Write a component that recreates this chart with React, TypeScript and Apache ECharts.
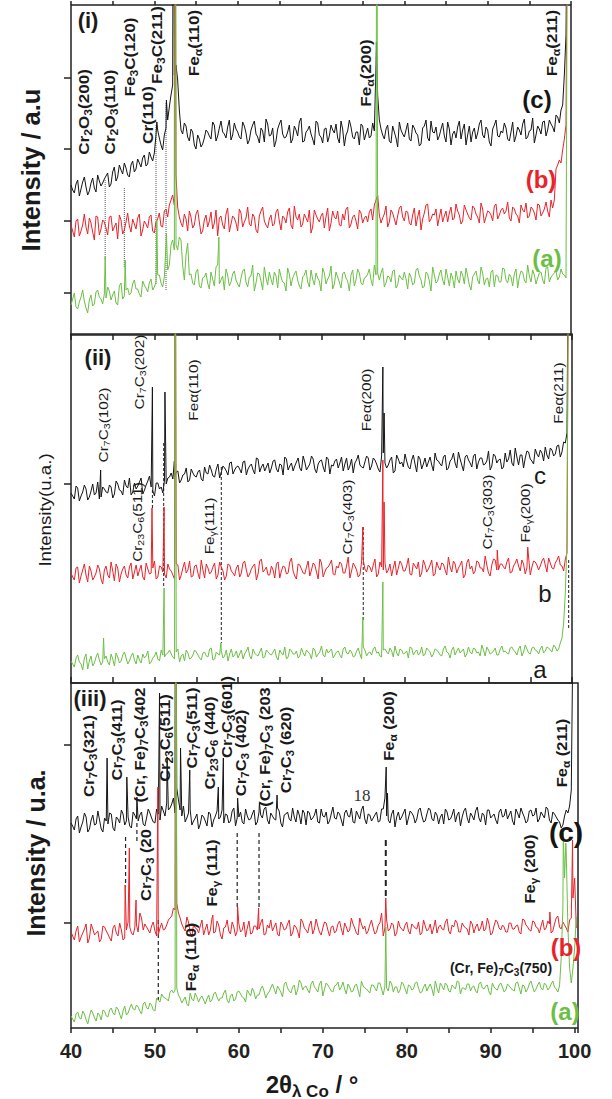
import React, { useEffect, useRef } from "react";
import * as echarts from "echarts";

const FONT = "'Liberation Sans', Arial, Helvetica, sans-serif";
const X_START = 40;
const X_STEP = 0.4;
const X_MID_START = 40.2;
const X_TICKS_STEP = 5;

// ---------- panel (i) : intensity read as px above panel bottom ----------
// main samples at 40.0, 40.4 ... 100.0 ; mid samples at 40.2, 40.6 ... 99.8
const P1_C = [
  150,142,155,146,158,140,152,147,160,149,
  156,162,151,168,158,165,172,160,170,163,
  176,168,180,171,178,182,205,190,200,215,
  240,260,255,205,212,198,206,190,200,188,
  197,203,196,210,199,214,201,208,195,212,
  203,196,209,191,205,214,198,207,193,211,
  200,188,206,215,197,203,192,209,199,217,
  194,205,201,190,212,198,206,193,210,202,
  197,214,189,204,208,196,203,211,195,207,
  199,204,240,206,196,210,192,203,188,205,
  198,212,194,207,200,191,209,197,214,202,
  195,206,199,213,190,204,208,196,211,200,
  193,207,202,215,197,205,189,210,199,204,
  212,196,203,193,208,200,216,198,205,192,
  209,201,214,205,211,203,218,225,260,500,
  500,
];
const P1_C_MID = [
  145,151,139,153,148,144,157,143,154,152,
  159,148,163,154,170,161,167,158,174,166,
  172,177,169,183,174,200,197,185,207,228,
  250,270,225,201,209,194,203,186,196,191,
  205,199,213,194,207,203,197,215,200,206,
  198,213,202,195,210,201,192,204,216,199,
  207,194,211,201,198,210,196,205,213,193,
  203,209,196,214,200,192,207,199,205,211,
  192,206,200,215,198,203,190,209,201,197,
  212,270,215,200,206,194,209,197,213,201,
  205,196,210,202,189,207,215,194,203,208,
  199,212,193,206,201,197,214,205,190,209,
  203,196,211,200,208,193,206,215,198,202,
  207,194,213,199,205,211,196,204,217,200,
  206,213,199,215,208,220,212,230,300,500,
];
const P1_B = [
  110,98,116,104,121,101,112,95,118,106,
  113,100,119,108,96,115,105,122,103,111,
  117,99,114,107,120,102,116,109,124,118,
  135,130,128,112,121,104,118,110,125,101,
  115,108,123,112,99,119,106,127,111,117,
  104,122,113,128,109,118,102,124,114,107,
  120,111,126,105,117,123,110,129,115,108,
  121,113,102,125,116,119,107,127,112,118,
  124,109,115,128,111,120,106,122,117,113,
  126,130,140,112,121,108,125,116,119,129,
  114,123,110,127,118,105,122,131,116,120,
  109,126,119,113,128,117,124,111,130,121,
  115,127,118,132,112,124,120,129,116,125,
  121,133,114,126,119,130,123,117,128,122,
  131,119,126,124,135,135,170,172,196,500,
  500,
];
const P1_B_MID = [
  104,114,99,110,108,117,103,119,100,115,
  107,118,104,112,120,101,113,109,116,106,
  121,105,111,118,104,113,122,108,126,130,
  140,160,118,108,116,124,107,121,113,104,
  120,114,106,125,117,110,121,103,119,112,
  126,108,117,111,121,105,119,128,110,116,
  109,123,114,119,112,127,106,118,121,111,
  117,125,108,120,113,122,118,104,124,116,
  110,121,126,107,118,114,125,112,119,123,
  115,135,120,117,129,113,122,110,127,118,
  124,112,120,109,125,116,130,113,121,126,
  118,113,124,122,115,131,120,114,125,117,
  129,121,112,126,118,123,114,131,120,127,
  124,117,128,121,112,125,132,119,126,115,
  130,122,133,118,127,166,175,185,210,500,
];
const P1_A = [
  30,42,26,38,34,22,40,31,45,36,
  41,48,35,44,30,52,39,47,42,55,
  46,38,50,43,56,48,60,52,58,65,
  90,85,85,95,55,92,61,50,66,47,
  58,52,63,49,70,55,45,60,53,64,
  51,57,66,48,59,44,62,54,68,50,
  56,63,47,58,52,67,49,61,55,46,
  60,53,65,50,57,44,62,56,69,51,
  58,47,63,54,60,49,66,52,57,61,
  55,70,62,62,48,59,53,65,50,57,
  63,46,58,52,67,55,49,61,44,60,
  54,65,50,58,62,47,56,64,51,59,
  45,61,55,68,50,57,63,48,59,53,
  66,52,58,61,47,64,55,70,53,60,
  57,63,51,68,58,62,55,66,60,500,
  500,
];
const P1_A_MID = [
  36,28,33,45,27,35,29,43,38,31,
  37,44,40,32,49,36,45,40,51,46,
  41,54,47,52,45,53,60,48,90,70,
  95,90,98,70,80,60,52,63,49,57,
  62,46,56,68,51,59,66,49,61,55,
  48,64,53,58,70,52,61,45,57,63,
  50,59,66,53,44,61,57,64,49,58,
  65,48,56,62,54,67,51,59,46,63,
  53,61,57,44,65,55,62,50,58,66,
  49,60,55,67,52,58,64,47,60,55,
  56,62,50,65,59,47,63,54,68,52,
  61,55,66,49,57,64,52,60,67,50,
  58,64,51,62,56,48,65,60,53,67,
  55,61,49,66,58,63,52,59,65,51,
  62,55,67,53,60,64,58,61,57,500,
];
const P1_C_PEAKS = [[50.3, 213], [51.45, 235], [52.3, 600], [76.65, 293]];
const P1_B_PEAKS = [[52.45, 600]];
const P1_A_PEAKS = [[44.1, 78], [46.5, 75], [50.3, 115], [51.45, 102], [52.58, 600], [57.75, 98], [76.7, 600]];
const P1_MARKERS = [[44.1, 155, 75], [46.4, 147, 68], [50.2, 210, 50], [51.4, 232, 45]];
const P1_YTICKS = [42, 114, 186, 257];

// ---------- panel (ii) ----------
const P2_C = [
  190,184,195,187,198,183,192,188,201,186,
  194,190,196,189,199,192,203,195,188,200,
  197,205,193,202,196,187,200,196,203,205,
  210,206,212,203,209,201,214,207,211,204,
  216,209,213,206,219,211,215,208,221,213,
  217,210,222,214,219,209,224,216,212,220,
  215,223,211,218,226,213,220,217,225,212,
  221,216,227,214,219,223,211,224,218,222,
  215,226,219,213,224,220,228,216,221,225,
  217,223,214,227,220,218,226,212,224,221,
  229,216,223,219,227,214,225,221,218,230,
  222,217,228,215,224,220,231,218,226,223,
  216,229,221,225,219,232,217,227,223,214,
  230,224,220,235,218,228,225,231,222,234,
  226,230,236,224,233,229,238,231,240,500,
  500,
];
const P2_C_MID = [
  187,197,182,191,194,186,199,190,184,196,
  191,198,185,202,193,188,197,205,191,194,
  201,189,198,207,192,200,194,190,199,206,
  204,211,200,208,215,203,210,206,213,202,
  210,218,207,214,205,217,212,220,209,216,
  214,221,208,217,213,225,211,219,216,210,
  222,214,219,208,224,217,212,221,215,227,
  213,219,224,210,222,216,226,209,217,224,
  220,212,225,217,210,223,218,215,227,213,
  225,219,211,230,215,223,210,228,219,216,
  222,214,228,211,224,219,216,226,212,223,
  219,226,213,222,230,215,224,212,228,220,
  227,214,225,218,222,213,229,220,224,216,
  221,233,217,226,228,215,232,224,219,229,
  233,222,228,235,227,237,226,241,250,500,
];
const P2_B = [
  110,103,116,107,119,101,112,106,118,104,
  113,108,121,102,115,109,117,105,120,111,
  107,118,103,114,110,122,106,116,109,119,
  112,104,118,108,121,113,106,117,110,123,
  105,115,111,120,108,116,103,119,112,107,
  118,110,122,106,114,119,109,124,113,108,
  117,105,121,112,116,110,125,107,119,114,
  109,122,113,118,104,120,111,116,123,108,
  115,119,110,126,112,117,106,121,114,118,
  111,124,109,116,120,113,107,122,115,119,
  112,125,108,117,121,110,118,114,123,109,
  116,120,113,126,111,119,115,122,108,124,
  117,112,121,115,127,110,118,123,113,119,
  114,125,111,120,117,123,109,126,116,121,
  113,122,118,125,115,120,127,117,124,500,
  500,
];
const P2_B_MID = [
  106,115,100,113,108,117,103,110,114,99,
  117,105,112,119,101,114,108,116,104,118,
  113,106,120,109,115,104,117,111,105,114,
  108,119,103,115,110,122,107,118,104,113,
  119,109,116,104,121,112,107,118,110,115,
  106,120,113,109,117,103,122,111,116,108,
  113,119,105,117,109,121,112,104,118,110,
  116,107,120,111,124,106,115,119,109,117,
  121,110,117,105,120,113,108,123,111,116,
  118,106,121,113,110,119,115,108,122,112,
  117,109,120,114,106,123,111,118,107,121,
  113,119,108,116,122,110,118,105,120,114,
  109,122,115,111,118,107,124,113,119,116,
  121,110,117,124,112,119,115,108,122,118,
  117,125,111,120,114,123,118,112,130,500,
];
const P2_A = [
  22,16,28,19,25,14,27,20,30,18,
  24,21,29,17,26,22,31,19,27,23,
  28,20,25,32,21,27,24,33,26,30,
  29,24,34,27,22,30,25,33,28,23,
  31,26,35,24,29,32,27,22,34,28,
  25,33,29,36,24,30,27,35,26,31,
  28,34,23,30,36,26,32,29,25,35,
  27,31,24,33,29,37,26,30,34,28,
  32,25,36,29,31,27,35,24,33,30,
  28,36,31,26,34,29,32,37,27,33,
  30,25,35,31,28,36,29,33,26,34,
  31,27,37,30,33,28,35,32,26,36,
  29,34,31,38,27,33,30,35,28,37,
  32,29,36,31,34,27,38,30,35,33,
  29,37,32,35,31,36,34,45,90,500,
  500,
];
const P2_A_MID = [
  19,25,21,13,29,22,17,26,23,21,
  27,18,24,30,20,28,25,22,30,19,
  23,29,27,19,25,31,22,28,29,33,
  26,31,21,29,33,24,28,31,25,30,
  27,34,23,31,28,25,33,29,26,32,
  29,24,32,27,34,28,31,25,33,29,
  31,26,33,28,24,34,29,32,27,30,
  33,29,35,26,31,28,34,32,25,31,
  28,34,30,33,26,32,29,36,27,31,
  34,30,27,33,31,35,26,30,34,29,
  32,36,28,33,30,27,35,31,29,33,
  28,34,31,25,36,32,30,34,29,31,
  35,30,27,33,36,29,32,28,34,31,
  30,35,33,28,37,31,34,29,36,32,
  34,30,36,33,38,32,40,60,140,500,
];
const P2_C_PEAKS = [[43.55, 213], [49.75, 296], [51.25, 291], [52.38, 222], [77.35, 316], [77.5, 270]];
const P2_B_PEAKS = [[49.7, 175], [51.15, 176], [52.45, 600], [74.95, 156], [77.35, 223], [77.5, 181], [91.05, 133], [94.7, 136]];
const P2_A_PEAKS = [[43.9, 45], [51.15, 95], [52.5, 600], [57.95, 40], [74.95, 66], [77.35, 101]];
const P2_MARKERS = [[49.75, 193, 173], [51.1, 240, 96], [58.0, 216, 40], [75.0, 156, 63], [99.6, 123, 53]];
const P2_YTICKS = [199];

// ---------- panel (iii) ----------
const P3_C = [
  205,198,212,201,215,196,208,203,217,199,
  210,204,214,197,209,218,203,211,200,213,
  207,216,202,219,210,205,214,222,212,218,
  224,215,228,212,206,215,203,210,199,213,
  207,216,201,212,209,218,214,205,217,202,
  211,206,219,208,214,203,216,210,221,204,
  212,208,217,201,214,209,220,206,213,218,
  203,215,210,219,205,212,216,207,221,209,
  214,202,218,211,206,217,209,222,204,213,
  210,216,207,219,212,205,218,211,208,215,
  203,217,212,209,220,206,214,218,207,213,
  211,204,216,209,219,213,202,217,210,215,
  208,221,206,213,218,210,214,204,219,212,
  209,217,203,215,220,211,207,218,213,206,
  216,210,219,205,214,208,200,212,215,238,
  500,
];
const P3_C_MID = [
  202,209,195,206,211,199,213,204,208,196,
  207,215,200,211,205,214,207,202,216,209,
  213,204,210,215,206,219,208,217,225,220,
  230,240,218,222,210,218,207,214,204,211,
  202,214,208,217,211,205,213,207,220,210,
  216,204,212,209,218,206,213,219,208,215,
  209,220,205,213,216,207,211,218,204,215,
  217,208,213,206,219,211,204,214,210,216,
  208,215,212,220,205,213,218,209,214,207,
  213,206,219,230,208,214,201,216,211,219,
  210,215,205,218,212,207,220,209,216,204,
  214,219,208,213,206,216,211,220,205,212,
  217,210,215,203,218,212,208,216,211,219,
  213,207,219,210,215,205,217,212,220,209,
  213,221,208,216,211,206,203,218,222,400,
];
const P3_B = [
  96,88,102,91,99,85,104,93,97,89,
  101,94,87,103,92,98,90,106,95,100,
  96,110,104,98,102,97,93,105,99,108,
  112,118,115,104,97,106,91,100,95,108,
  99,93,110,96,103,89,101,97,106,92,
  104,98,91,107,95,102,99,109,94,100,
  97,105,92,103,99,108,95,101,90,106,
  98,103,94,109,96,100,105,92,102,97,
  107,93,101,98,104,95,110,99,94,103,
  100,96,105,92,108,99,103,95,101,97,
  106,94,102,99,93,108,97,104,100,95,
  103,98,109,94,101,105,96,102,99,107,
  95,104,100,97,110,93,102,106,98,101,
  96,105,99,103,94,108,101,97,106,100,
  102,98,107,95,104,112,99,103,96,110,
  150,
];
const P3_B_MID = [
  92,97,86,95,104,90,99,95,86,102,
  97,90,100,95,105,88,98,101,93,103,
  115,98,101,95,106,92,100,98,103,110,
  120,125,110,100,111,95,104,99,102,93,
  104,98,95,107,93,100,108,94,101,97,
  96,106,100,94,102,98,105,93,103,108,
  101,94,106,98,104,92,103,97,109,100,
  95,107,99,102,93,106,98,101,95,104,
  99,105,96,110,100,93,104,102,97,108,
  94,103,115,100,97,105,92,107,99,103,
  97,104,100,106,95,102,99,94,108,101,
  99,106,97,103,108,96,105,100,93,104,
  101,97,107,99,104,95,108,100,103,96,
  105,99,102,96,109,103,98,107,101,95,
  108,100,104,97,110,101,106,100,108,130,
];
const P3_A = [
  12,6,16,9,14,4,18,10,15,8,
  17,11,20,13,19,9,22,15,24,18,
  21,14,26,19,23,17,28,34,30,27,
  38,38,33,25,31,22,29,35,26,32,
  24,33,28,36,27,30,38,25,34,29,
  37,31,26,35,40,29,33,42,30,36,
  44,34,39,31,46,37,41,33,48,38,
  42,35,47,39,44,32,45,40,36,43,
  38,46,34,41,37,44,31,42,39,35,
  43,37,45,33,40,47,36,41,38,44,
  34,42,39,46,35,41,37,44,32,40,
  45,38,43,36,41,47,34,40,44,37,
  42,35,46,39,43,33,41,38,45,36,
  44,40,37,46,34,42,39,47,36,43,
  40,45,38,44,41,36,70,150,100,45,
  80,
];
const P3_A_MID = [
  9,14,10,17,8,12,15,7,13,18,
  12,18,15,21,14,17,13,20,19,23,
  17,24,20,25,18,30,26,31,29,36,
  35,40,30,28,24,35,27,31,30,28,
  29,26,34,31,30,35,28,32,27,36,
  34,30,38,32,36,33,39,37,34,40,
  39,42,36,44,40,35,43,38,45,41,
  38,44,41,36,47,39,43,37,42,46,
  41,39,44,36,42,38,47,40,37,43,
  40,45,39,42,37,44,41,35,46,39,
  43,38,45,40,36,44,41,39,47,35,
  42,45,37,43,39,46,40,38,44,41,
  37,44,40,42,36,45,39,43,41,38,
  42,38,45,40,43,36,44,41,39,46,
  38,43,40,47,39,42,120,175,60,60,
];
const P3_C_PEAKS = [[44.3, 270], [46.65, 251], [47.85, 231], [50.55, 335], [51.45, 271], [52.45, 600], [53.05, 280], [54.15, 258], [57.55, 241], [58.15, 270], [59.85, 230], [62.45, 225], [64.55, 233], [77.55, 261], [77.7, 235], [100.3, 500]];
const P3_B_PEAKS = [[46.45, 143], [46.95, 180], [47.75, 128], [50.35, 241], [52.45, 600], [56.9, 113], [59.85, 121], [62.35, 120], [77.5, 130], [97.05, 116], [99.75, 188], [100.2, 100]];
const P3_A_PEAKS = [[52.5, 600], [77.5, 101], [98.65, 195], [98.95, 185], [100.2, 111]];
const P3_MARKERS = [[46.5, 191, 141], [47.85, 205, 185], [50.4, 108, 28], [59.8, 195, 121], [62.4, 195, 121]];
const P3_MARKERS_BOLD = [[77.5, 188, 131]];
const P3_YTICKS = [105, 283];

// ---------- annotations: [text, centre x, centre y] ----------
const P1_LABELS = [
  ["Cr{s|2}O{s|3}(200)", 84, 112],
  ["Cr{s|2}O{s|3}(110)", 110, 112],
  ["Fe{s|3}C(120)", 130, 57],
  ["Cr(110)", 148, 115],
  ["Fe{s|3}C(211)", 157, 45],
  ["Fe{s|α}(110)", 194, 43],
  ["Fe{s|α}(200)", 366, 73],
  ["Fe{s|α}(211)", 552, 43],
];
const P2_LABELS = [
  ["Cr{s|7}C{s|3}(102)", 103, 425],
  ["Cr{s|7}C{s|3}(202)", 139, 372],
  ["Feα(110)", 193, 390],
  ["Cr{s|23}C{s|6}(511)", 137, 522],
  ["Fe{s|γ}(111)", 209, 526],
  ["Feα(200)", 366, 400],
  ["Cr{s|7}C{s|3}(403)", 347, 517],
  ["Cr{s|7}C{s|3}(303)", 487, 512],
  ["Fe{s|γ}(200)", 525, 513],
  ["Feα(211)", 558, 393],
];
const P3_LABELS = [
  ["Cr{s|7}C{s|3}(321)", 89, 756],
  ["Cr{s|7}C{s|3}(411)", 117, 740],
  ["(Cr, Fe){s|7}C{s|3}(402", 140, 745],
  ["Cr{s|23}C{s|6}(511)", 165, 738],
  ["Cr{s|7}C{s|3}(511)", 192, 728],
  ["Cr{s|23}C{s|6} (440)", 210, 743],
  ["Cr{s|7}C{s|3}(601)", 227, 717],
  ["Cr{s|7}C{s|3} (402)", 241, 753],
  ["(Cr, Fe){s|7}C{s|3} (203", 265, 747],
  ["Cr{s|7}C{s|3} (620)", 286, 750],
  ["Cr{s|7}C{s|3} (20", 146, 865],
  ["Fe{s|γ} (111)", 212, 873],
  ["Fe{s|α} (110)", 191, 957],
  ["Fe{s|α} (200)", 389, 726],
  ["Fe{s|α} (211)", 562, 753],
  ["Fe{s|γ} (200)", 530, 869],
];

const BLACK = "#151515";
const RED = "#e8232a";
const GREEN = "#6cbf45";

function buildLine(main: number[], mid: number[], peaks: number[][]) {
  const a = main.map((v, i) => [+(X_START + i * X_STEP).toFixed(2), v]);
  const b = mid.map((v, i) => [+(X_MID_START + i * X_STEP).toFixed(2), v]);
  return a.concat(b).concat(peaks).sort((p, q) => p[0] - q[0]);
}

function rich(size: number, weight: string, color: string) {
  return {
    s: {
      fontSize: Math.round(size * 0.72),
      fontWeight: weight,
      fontFamily: FONT,
      fill: color,
      padding: [Math.round(size * 0.6), 0, 0, 0],
    },
  };
}

function txt(text: string, x: number, y: number, size: number, weight: string, color: string, rotated: boolean, stretch = 1, family = FONT) {
  return {
    type: "text",
    x,
    y,
    rotation: rotated ? Math.PI / 2 : 0,
    scaleX: stretch,
    z: 100,
    silent: true,
    style: {
      text,
      x: 0,
      y: 0,
      align: "center",
      verticalAlign: "middle",
      textAlign: "center",
      textVerticalAlign: "middle",
      fontSize: size,
      fontWeight: weight,
      fontFamily: family,
      fill: color,
      rich: rich(size, weight, color),
    },
  };
}

export default function App() {
  const ref = useRef<HTMLDivElement>(null);
  useEffect(() => {
    if (!ref.current) return;
    const chart = echarts.init(ref.current, undefined, { renderer: "svg" });

    const grids = [
      { left: 71, top: 5, width: 500, height: 330 },
      { left: 71, top: 334, width: 501, height: 349 },
      { left: 71, top: 683, width: 507, height: 345 },
    ].map((g) => ({ ...g, show: true, borderColor: "#222", borderWidth: 1.5, backgroundColor: "transparent" }));

    const xBase = (gridIndex: number, max: number, position: string, tick: any, label = false) => ({
      type: "value",
      gridIndex,
      position,
      min: 40,
      max,
      interval: X_TICKS_STEP,
      axisLine: { show: false },
      axisTick: { show: tick.show, inside: tick.inside, length: tick.length, lineStyle: { color: "#222", width: 1.5 } },
      axisLabel: label
        ? {
            show: true,
            margin: 13,
            fontSize: 20,
            fontWeight: "bold",
            fontFamily: FONT,
            color: "#222",
            formatter: (v: number) => (v % 10 === 0 ? String(v) : ""),
          }
        : { show: false },
      splitLine: { show: false },
    });

    const xAxes = [
      xBase(0, 100, "bottom", { show: false }),
      xBase(0, 100, "top", { show: true, inside: false, length: 4 }),
      xBase(1, 100, "bottom", { show: true, inside: true, length: 6 }),
      xBase(1, 100, "top", { show: true, inside: true, length: 6 }),
      xBase(2, 100.4, "bottom", { show: true, inside: false, length: 5 }, true),
    ];
    const yBase = (gridIndex: number, max: number, ticks: number[]) => ({
      type: "value",
      gridIndex,
      min: 0,
      max,
      axisLine: { show: false },
      axisTick: { show: true, inside: false, length: 7, customValues: ticks, lineStyle: { color: "#222", width: 1.5 } },
      axisLabel: { show: false },
      splitLine: { show: false },
    });
    const yAxes = [yBase(0, 330, P1_YTICKS), yBase(1, 349, P2_YTICKS), yBase(2, 345, P3_YTICKS)];

    const line = (data: number[][], xi: number, yi: number, color: string) => ({
      type: "line",
      xAxisIndex: xi,
      yAxisIndex: yi,
      data,
      symbol: "none",
      silent: true,
      clip: true,
      lineStyle: { color, width: 1 },
    });
    const marker = (m: number[], xi: number, yi: number, type: any, color: string, width: number) => ({
      type: "line",
      xAxisIndex: xi,
      yAxisIndex: yi,
      data: [[m[0], m[1]], [m[0], m[2]]],
      symbol: "none",
      silent: true,
      z: 1,
      lineStyle: { color, width, type },
    });

    const series: any[] = [
      ...P1_MARKERS.map((m) => marker(m, 0, 0, "dotted", "#555", 1)),
      ...P2_MARKERS.map((m) => marker(m, 2, 1, [3, 2], "#222", 1)),
      ...P3_MARKERS.map((m) => marker(m, 4, 2, [4, 3], "#222", 1.2)),
      ...P3_MARKERS_BOLD.map((m) => marker(m, 4, 2, [6, 4], "#222", 2)),
      line(buildLine(P1_C, P1_C_MID, P1_C_PEAKS), 0, 0, BLACK),
      line(buildLine(P1_B, P1_B_MID, P1_B_PEAKS), 0, 0, RED),
      line(buildLine(P1_A, P1_A_MID, P1_A_PEAKS), 0, 0, GREEN),
      line(buildLine(P2_C, P2_C_MID, P2_C_PEAKS), 2, 1, BLACK),
      line(buildLine(P2_B, P2_B_MID, P2_B_PEAKS), 2, 1, RED),
      line(buildLine(P2_A, P2_A_MID, P2_A_PEAKS), 2, 1, GREEN),
      line(buildLine(P3_C, P3_C_MID, P3_C_PEAKS), 4, 2, BLACK),
      line(buildLine(P3_B, P3_B_MID, P3_B_PEAKS), 4, 2, RED),
      line(buildLine(P3_A, P3_A_MID, P3_A_PEAKS), 4, 2, GREEN),
    ];

    const graphic: any[] = [
      ...P1_LABELS.map((l) => txt(l[0] as string, l[1] as number, l[2] as number, 14, "bold", "#1a1a1a", true, 1.22)),
      ...P2_LABELS.map((l) => txt(l[0] as string, l[1] as number, l[2] as number, 13, "normal", "#1a1a1a", true, 1.18)),
      ...P3_LABELS.map((l) => txt(l[0] as string, l[1] as number, l[2] as number, 14, "bold", "#1a1a1a", true, 1.18)),
      txt("(Cr, Fe){s|7}C{s|3}(750)", 501, 968, 14, "bold", "#1a1a1a", false),
      txt("18", 362, 795, 17, "normal", "#333", false, 1, "'Liberation Serif', 'DejaVu Serif', serif"),
      txt("(i)", 88, 20, 22, "bold", "#1a1a1a", false),
      txt("(ii)", 98, 357, 22, "bold", "#1a1a1a", false),
      txt("(iii)", 90, 698, 22, "bold", "#1a1a1a", false),
      txt("(c)", 537, 99, 24, "bold", BLACK, false),
      txt("(b)", 541, 179, 24, "bold", RED, false),
      txt("(a)", 547, 258, 24, "bold", GREEN, false),
      txt("c", 540, 475, 24, "normal", "#1a1a1a", false),
      txt("b", 545, 593, 24, "normal", "#1a1a1a", false),
      txt("a", 540, 669, 24, "normal", "#1a1a1a", false),
      txt("(c)", 566, 832, 28, "bold", BLACK, false),
      txt("(b)", 566, 947, 24, "bold", RED, false),
      txt("(a)", 565, 1011, 24, "bold", GREEN, false),
      txt("Intensity / a.u", 31, 170, 26, "bold", "#1a1a1a", true, 0.98),
      txt("Intensity(u.a.)", 45, 510, 17, "normal", "#1a1a1a", true, 1.1),
      txt("Intensity / u.a.", 36, 853, 26, "bold", "#1a1a1a", true, 0.965),
      txt("2θ{s|λ Co} / °", 312, 1084, 24, "bold", "#1a1a1a", false),
    ];

    chart.setOption({
      animation: false,
      backgroundColor: "#ffffff",
      grid: grids,
      xAxis: xAxes,
      yAxis: yAxes,
      series,
      graphic,
    });
    return () => chart.dispose();
  }, []);
  return <div ref={ref} style={{ position: "absolute", left: 0, top: 0, width: 612, height: 1099 }} />;
}
